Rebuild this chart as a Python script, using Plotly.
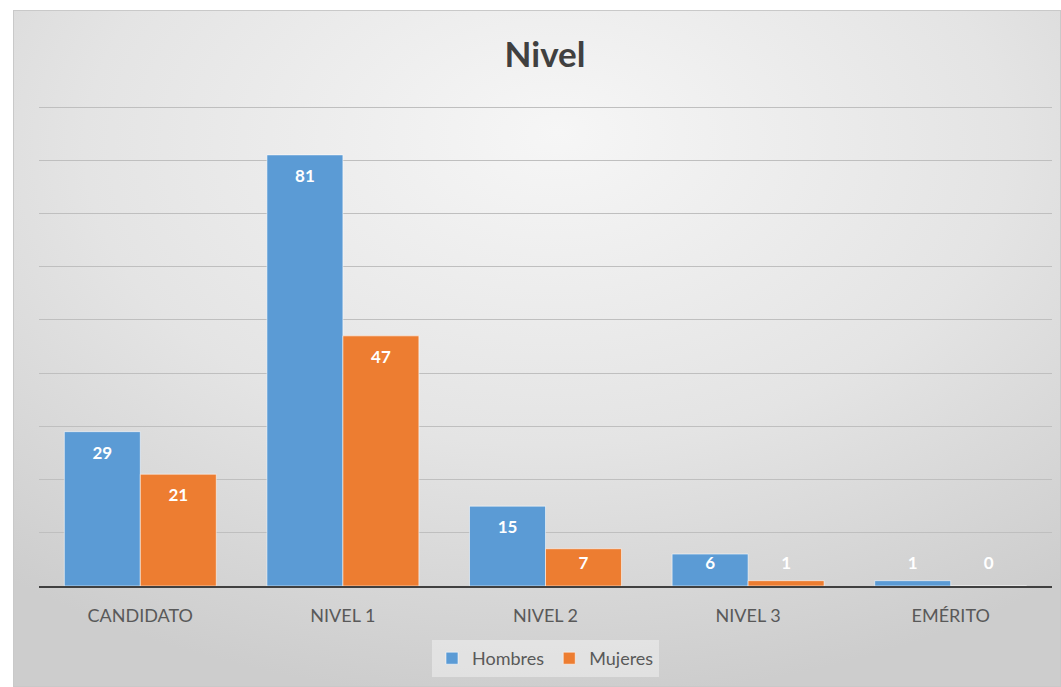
import base64
import plotly.graph_objects as go

categories = ["CANDIDATO", "NIVEL 1", "NIVEL 2", "NIVEL 3", "EMÉRITO"]
hombres = [29, 81, 15, 6, 1]
mujeres = [21, 47, 7, 1, 0]
series_names = ["Hombres", "Mujeres"]
y_ticks = [0, 10, 20, 30, 40, 50, 60, 70, 80, 90]

BLUE = "#5B9BD5"
ORANGE = "#ED7D31"
FONT = "Lato"

W, H = 1061, 687
ML, MR, MT, MB = 39, 9, 104, 101
PW, PH = W - ML - MR, H - MT - MB
# axis max: keep the 90 gridline at y=107 px while leaving room above it
Y_MAX = 90 * PH / (H - MB - 107)

# label position: inside end, clamped just above the axis
def label_y(vals):
    return [max(v - 4.3, 4.0) for v in vals]

fig = go.Figure()
for name, vals, col in [(series_names[0], hombres, BLUE), (series_names[1], mujeres, ORANGE)]:
    fig.add_trace(go.Bar(
        name=name, x=categories, y=vals,
        marker=dict(color=col, line=dict(color="rgba(255,255,255,0.55)", width=1)),
        offsetgroup=name,
    ))
for name, vals in [(series_names[0], hombres), (series_names[1], mujeres)]:
    fig.add_trace(go.Scatter(
        x=categories, y=label_y(vals), text=[str(v) for v in vals],
        mode="text", textposition="middle center",
        textfont=dict(family=FONT, size=17, color="white", weight="bold"),
        showlegend=False, hoverinfo="skip", offsetgroup=name,
    ))

svg = '''<svg xmlns="http://www.w3.org/2000/svg" width="1048" height="677" viewBox="0 0 1048 677">
<defs><radialGradient id="g" cx="50%" cy="22%" r="80%" fx="52%" fy="18%">
<stop offset="0" stop-color="#f6f6f6"/><stop offset="0.55" stop-color="#e4e4e4"/><stop offset="1" stop-color="#cdcdcd"/>
</radialGradient></defs>
<rect x="0" y="0" width="1048" height="677" fill="url(#g)"/>
<rect x="0.5" y="0.5" width="1047" height="676" fill="none" stroke="#c9c9c9" stroke-width="1"/>
</svg>'''
src = "data:image/svg+xml;base64," + base64.b64encode(svg.encode()).decode()

bx0, by0 = 13, 10
fig.add_layout_image(dict(
    source=src, xref="paper", yref="paper",
    x=(bx0 - ML) / PW, y=(H - MB - by0) / PH,
    sizex=(W - bx0) / PW, sizey=(H - by0) / PH,
    xanchor="left", yanchor="top", sizing="stretch", layer="below",
))

fig.update_layout(
    width=W, height=H,
    margin=dict(l=ML, r=MR, t=MT, b=MB, pad=0),
    paper_bgcolor="white", plot_bgcolor="rgba(0,0,0,0)",
    barmode="group", bargap=0.25, bargroupgap=0.0,
    scattermode="group", scattergap=0.25,
    title=dict(text="<b>Nivel</b>", x=545 / W, xanchor="center", y=1 - 55 / H, yanchor="middle",
               font=dict(family=FONT, size=35, color="#404040")),
    font=dict(family=FONT, color="#595959"),
    showlegend=True,
    legend=dict(orientation="h", x=0.5, xanchor="center", y=(H - MB - 640) / PH, yanchor="top",
                bgcolor="rgba(240,240,240,0.55)", font=dict(family=FONT, size=18, color="#595959"),
                itemwidth=30, traceorder="normal"),
)
fig.update_xaxes(
    showgrid=False, showline=True, linecolor="#404040", linewidth=2,
    ticks="", tickfont=dict(family=FONT, size=18, color="#595959"), ticklabelstandoff=12,
)
fig.update_yaxes(
    range=[0, Y_MAX], tickvals=y_ticks, showticklabels=False, showgrid=True,
    gridcolor="#bfbfbf", gridwidth=1, zeroline=False, showline=False,
)

fig.write_html("out.html", config={"displayModeBar": False},
               post_script="document.body.style.margin='0';document.body.style.overflow='hidden';")
